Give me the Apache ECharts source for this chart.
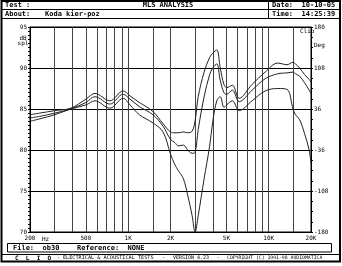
<!DOCTYPE html>
<html><head><meta charset="utf-8">
<script src="https://cdn.jsdelivr.net/npm/echarts@6/dist/echarts.min.js"></script>
<style>html,body{margin:0;padding:0;background:#fff}#c{width:342px;height:266px}</style>
</head><body><div id="c"></div>
<script>
const freqs = [200,235,300,390,500,580,740,920,1030,1200,1500,1770,2000,2150,2270,2470,2650,2850,2990,3150,3470,3800,4000,4270,4520,4800,5020,5510,6170,7620,9440,11600,13500,14900,15500,16600,18000,19400,20000];
const curveTop = [84.3,84.5,84.8,85.1,86.2,86.9,86.0,87.2,86.6,85.8,84.7,83.2,82.2,82.1,82.1,82.2,82.1,82.3,83.5,86.5,89.5,91.3,91.8,92.2,90.0,88.0,87.6,87.9,86.3,88.0,89.5,90.6,90.4,90.7,90.5,90.0,89.2,88.6,88.3];
const curveMid = [83.9,84.1,84.5,85.0,85.8,86.5,85.6,86.8,86.2,85.3,84.3,82.9,81.3,80.9,80.5,80.6,80.0,79.6,79.7,82.5,86.5,89.2,90.0,90.5,88.5,87.0,86.8,87.3,85.9,87.3,88.7,89.3,89.4,89.5,89.3,89.0,88.2,87.3,86.9];
const curveBot = [83.5,83.8,84.3,85.0,85.5,86.0,85.1,86.3,85.5,84.3,83.3,82.2,79.5,78.2,77.5,76.5,74.5,72.0,70.0,72.0,76.5,80.5,83.5,86.0,86.5,85.2,85.5,86.0,84.8,86.0,87.2,87.5,87.4,85.0,84.3,83.7,82.0,80.0,78.4];
const gridFreqs = [300,400,500,600,700,800,900,1000,1500,2000,3000,4000,5000,6000,7000,8000,9000,10000,15000];
const freqTickValues = [200,500,1000,2000,5000,10000,20000];
const freqTickLabels = ['200','500','1K','2K','5K','10K','20K'];

const mono = 'DejaVu Sans Mono';
function pts(arr){ return freqs.map((f,i)=>[f,arr[i]]); }
function curve(name, arr){
  return {name, type:'line', data:pts(arr), symbol:'none', smooth:0.35, yAxisIndex:0,
    lineStyle:{color:'#222', width:1}, silent:true, animation:false, z:5};
}
const chart = echarts.init(document.getElementById('c'), null, {renderer:'canvas'});
chart.setOption({
  animation:false,
  backgroundColor:'#fff',
  grid:{left:30, right:31, top:27, height:205, show:true, borderColor:'#000', borderWidth:1},
  xAxis:{type:'log', logBase:10, min:200, max:20000,
    axisLine:{show:false}, axisTick:{show:false}, axisLabel:{show:false}, splitLine:{show:false}},
  yAxis:[
    {type:'value', min:70, max:95, interval:5, position:'left',
      axisLine:{show:true, lineStyle:{color:'#000'}},
      axisTick:{show:true, length:2, lineStyle:{color:'#000'}},
      minorTick:{show:true, splitNumber:10, length:2, lineStyle:{color:'#000'}},
      axisLabel:{fontFamily:mono, fontSize:6, color:'#000', margin:3},
      splitLine:{show:true, lineStyle:{color:'#000', width:1}}},
    {type:'value', min:-180, max:180, interval:72, position:'right',
      axisLine:{show:true, lineStyle:{color:'#000'}},
      axisTick:{show:true, length:2, lineStyle:{color:'#000'}},
      minorTick:{show:true, splitNumber:4, length:2, lineStyle:{color:'#000'}},
      axisLabel:{fontFamily:mono, fontSize:6, color:'#000', margin:3},
      splitLine:{show:false}}
  ],
  series:[
    {type:'line', data:[], yAxisIndex:0, silent:true,
      markLine:{silent:true, symbol:'none', animation:false,
        lineStyle:{color:'#444', width:1, type:'solid'},
        label:{show:false},
        data:gridFreqs.map(f=>({xAxis:f}))}},
    {type:'line', data:[], yAxisIndex:0, silent:true,
      markLine:{silent:true, symbol:'none', animation:false,
        lineStyle:{color:'rgba(0,0,0,0)', width:0},
        label:{show:true, position:'start', distance:3, fontFamily:mono, fontSize:6, color:'#000'},
        data:freqTickValues.map((f,i)=>({xAxis:f, label:{formatter:freqTickLabels[i]}}))}},
    curve('top', curveTop), curve('mid', curveMid), curve('bot', curveBot)
  ],
  graphic:[
    {type:'rect', shape:{x:1.5, y:1, width:338.5, height:260.5}, style:{fill:'none', stroke:'#000', lineWidth:2}},
    {type:'line', shape:{x1:2, y1:9.5, x2:340, y2:9.5}, style:{stroke:'#000', lineWidth:1}},
    {type:'line', shape:{x1:2, y1:18.5, x2:340, y2:18.5}, style:{stroke:'#000', lineWidth:1}},
    {type:'line', shape:{x1:268.5, y1:1, x2:268.5, y2:18.5}, style:{stroke:'#000', lineWidth:1}},
    {type:'text', x:5, y:5.5, style:{text:'Test :', font:'bold 7px '+mono, fill:'#000', verticalAlign:'middle'}},
    {type:'text', x:168, y:5.5, style:{text:'MLS ANALYSIS', font:'bold 7px '+mono, fill:'#000', align:'center', verticalAlign:'middle'}},
    {type:'text', x:5, y:14.5, style:{text:'About:', font:'bold 7px '+mono, fill:'#000', verticalAlign:'middle'}},
    {type:'text', x:45, y:14.5, style:{text:'Koda kier-poz', font:'bold 7px '+mono, fill:'#000', verticalAlign:'middle'}},
    {type:'text', x:272, y:5.5, style:{text:'Date:  10-10-05', font:'bold 7px '+mono, fill:'#000', verticalAlign:'middle'}},
    {type:'text', x:272, y:14.5, style:{text:'Time:  14:25:39', font:'bold 7px '+mono, fill:'#000', verticalAlign:'middle'}},
    {type:'text', x:23, y:38, style:{text:'dB', font:'6px '+mono, fill:'#000', align:'center', verticalAlign:'middle'}},
    {type:'text', x:23, y:43.5, style:{text:'spl', font:'6px '+mono, fill:'#000', align:'center', verticalAlign:'middle'}},
    {type:'text', x:314, y:45, style:{text:'Deg', font:'6px '+mono, fill:'#000', verticalAlign:'middle'}},
    {type:'text', x:300, y:31, style:{text:'Clio', font:'6px '+mono, fill:'#000', verticalAlign:'middle'}},
    {type:'text', x:42, y:239, style:{text:'Hz', font:'6px '+mono, fill:'#000', verticalAlign:'middle'}},
    {type:'rect', shape:{x:7.5, y:243.5, width:324, height:8.5}, style:{fill:'none', stroke:'#000', lineWidth:1}},
    {type:'text', x:13, y:248, style:{text:'File:  ob30', font:'bold 7px '+mono, fill:'#000', verticalAlign:'middle'}},
    {type:'text', x:77, y:248, style:{text:'Reference:  NONE', font:'bold 7px '+mono, fill:'#000', verticalAlign:'middle'}},
    {type:'line', shape:{x1:2, y1:254.5, x2:340, y2:254.5}, style:{stroke:'#000', lineWidth:1}},
    {type:'text', x:15, y:258, style:{text:'C  L  I  O', font:'bold 6px '+mono, fill:'#000', verticalAlign:'middle'}},
    {type:'text', x:57, y:258, style:{text:'-', font:'5px '+mono, fill:'#000', verticalAlign:'middle'}},
    {type:'text', x:63, y:258, style:{text:'ELECTRICAL & ACOUSTICAL TESTS', font:'5.2px '+mono, fill:'#000', verticalAlign:'middle'}},
    {type:'text', x:162, y:258, style:{text:'-', font:'5px '+mono, fill:'#000', verticalAlign:'middle'}},
    {type:'text', x:173, y:258, style:{text:'VERSION 4.23', font:'5px '+mono, fill:'#000', verticalAlign:'middle'}},
    {type:'text', x:217, y:258, style:{text:'-', font:'5px '+mono, fill:'#000', verticalAlign:'middle'}},
    {type:'text', x:227, y:258, style:{text:'COPYRIGHT (C) 1991-98 AUDIOMATICA', font:'4.8px '+mono, fill:'#000', verticalAlign:'middle'}}
  ]
});
</script></body></html>
